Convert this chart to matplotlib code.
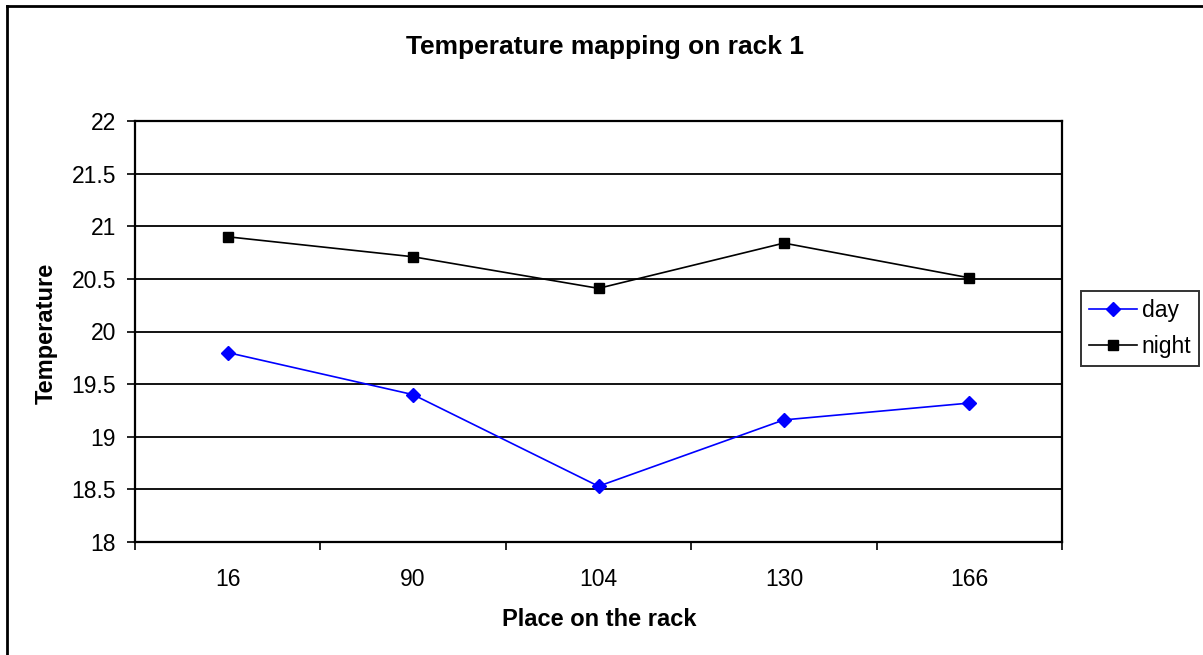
import matplotlib.pyplot as plt
from matplotlib.lines import Line2D

plt.rcParams['font.family'] = ['Liberation Sans', 'DejaVu Sans']

places = ['16', '90', '104', '130', '166']
day = [19.80, 19.40, 18.53, 19.16, 19.32]
night = [20.90, 20.71, 20.41, 20.84, 20.51]
yticks = [18, 18.5, 19, 19.5, 20, 20.5, 21, 21.5, 22]

W, H = 1203, 655
fig = plt.figure(figsize=(W / 100, H / 100), dpi=100)
ax = fig.add_axes([135/W, 1 - 542/H, 927/W, 421/H])

x = list(range(len(places)))
ax.plot(x, day, color='#0000ff', marker='D', markersize=7, linewidth=1.2, label='day')
ax.plot(x, night, color='black', marker='s', markersize=7, linewidth=1.2, label='night')

ax.set_xlim(-0.5, len(places) - 0.5)
ax.set_ylim(18, 22)
ax.set_yticks(yticks)
ax.set_yticklabels(['18', '18.5', '19', '19.5', '20', '20.5', '21', '21.5', '22'])
for yv in yticks:
    ax.axhline(yv, color='black', linewidth=1.3, zorder=0)

# labels centred on categories, tick marks on the boundaries
ax.set_xticks(x)
ax.set_xticklabels(places)
ax.tick_params(axis='x', which='major', length=0, pad=19, labelsize=16.5)
ax.set_xticks([i - 0.5 for i in range(len(places) + 1)], minor=True)
ax.tick_params(axis='x', which='minor', length=5.5, width=1.2, direction='out')
ax.tick_params(axis='y', length=5.5, width=1.2, direction='out', labelsize=16.5, pad=8)

for s in ax.spines.values():
    s.set_linewidth(1.6)

fig.text(605/W, 1 - 47/H, 'Temperature mapping on rack 1', fontsize=19, fontweight='bold',
         ha='center', va='center')
fig.text(599/W, 1 - 619/H, 'Place on the rack', fontsize=17, fontweight='bold',
         ha='center', va='center')
fig.text(46/W, 1 - 333/H, 'Temperature', fontsize=17, fontweight='bold',
         ha='center', va='center', rotation=90)

leg = ax.legend(loc='upper left', bbox_to_anchor=(1081/W, 1 - 291/H),
                bbox_transform=fig.transFigure, frameon=True, fancybox=False,
                fontsize=16.5, handlelength=2.1, borderaxespad=0, borderpad=0.35,
                labelspacing=0.55, handletextpad=0.2)
leg.get_frame().set_edgecolor('black')
leg.get_frame().set_linewidth(1.4)

# outer chart border (only top and left are inside the picture)
fig.add_artist(Line2D([7/W, 1], [1 - 6/H, 1 - 6/H], color='black', linewidth=2, transform=fig.transFigure))
fig.add_artist(Line2D([7/W, 7/W], [0, 1 - 6/H], color='black', linewidth=2, transform=fig.transFigure))

fig.savefig('out.png', dpi=100)
